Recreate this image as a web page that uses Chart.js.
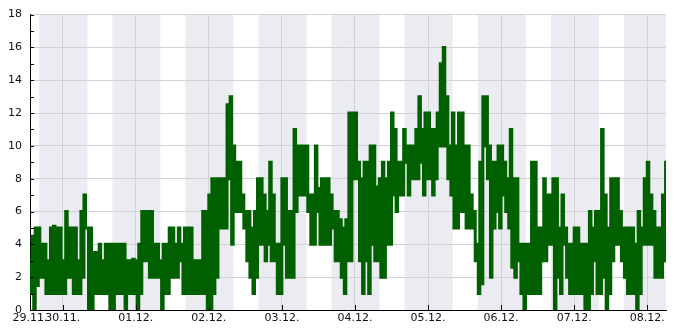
<!DOCTYPE html>
<html>
<head>
<meta charset="utf-8">
<script src="https://cdn.jsdelivr.net/npm/chart.js@4"></script>
<style>
  body { margin: 0; background: #fff; }
</style>
</head>
<body>
<canvas id="chart" width="685" height="330"></canvas>
<script>
// hours counted from 29.11. 00:00, one high/low pair per hour starting at 13:00
const startHour = 13;
const highs = [
  3, 4.5, 5, 5, 4, 4, 3, 5, 5.1, 5,
  5, 3, 6, 5, 5, 5, 3, 6, 7, 5,
  5, 3.5, 3.5, 4, 3, 4, 4, 4, 4, 4,
  4, 4, 3, 3, 3.1, 3, 4, 6, 6, 6,
  6, 4, 4, 3, 4, 4, 5, 5, 4, 5,
  4, 5, 5, 5, 3, 3, 3, 6, 6, 7,
  8, 8, 8, 8, 8, 12.5, 13, 10, 9, 9,
  7, 6, 6, 5, 6, 8, 8, 7, 6, 9,
  7, 4, 4, 8, 8, 6, 6, 11, 10, 10,
  10, 10, 7, 7, 10, 7.4, 8, 8, 8, 7,
  6, 6, 5.5, 5, 5.5, 12, 12, 12, 9, 8,
  9, 9, 10, 10, 7.5, 8, 9, 8, 9, 12,
  11, 9, 9, 11, 10, 10, 10, 11, 13, 11,
  12, 12, 11, 11, 12, 15, 16, 13, 10, 12,
  10, 12, 12, 10, 10, 7, 6, 4, 9, 13,
  13, 10, 9, 9, 10, 10, 9, 8, 11, 8,
  8, 4, 4, 4, 4, 9, 9, 5, 5, 8,
  7, 7, 8, 8, 5, 7, 5, 4, 4, 5,
  5, 4, 4, 4, 6, 5, 6, 6, 11, 7,
  5, 8, 8, 8, 6, 5, 5, 5, 5, 4,
  6, 5, 8, 9, 7, 6, 5, 5, 7, 9
];
const lows = [
  1, 0, 1.5, 2, 2, 1, 1, 1, 1, 1,
  1, 1, 2, 2, 1, 1, 1, 2, 5, 0,
  0, 1, 1, 1, 1, 1, 0, 0, 1, 1,
  1, 0, 1, 1, 1, 0, 1, 3, 3, 2,
  2, 2, 2, 0, 1, 1, 2, 2, 2, 3,
  1, 1, 1, 1, 1, 1, 1, 1, 0, 0,
  1, 2, 5, 5, 5, 8, 4, 6, 6, 6,
  5, 3, 2, 1, 2, 4, 4, 3, 4, 3,
  3, 1, 1, 4, 2, 2, 2, 6, 7, 7,
  7, 6, 4, 4, 6, 4, 4, 4, 4, 5,
  3, 3, 2, 1, 3, 3, 8, 8, 3, 1,
  3, 1, 4, 3, 3, 2, 2, 4, 4, 7,
  6, 7, 7, 9, 7, 8, 8, 8, 9, 7,
  8, 8, 7, 8, 10, 10, 10, 8, 7, 5,
  5, 6, 6, 5, 5, 5, 3, 1, 1.6, 10,
  8, 2, 5, 6, 5, 7, 6, 5, 2.6, 2,
  3, 1, 0, 1, 1, 1, 1, 1, 3, 3,
  4, 4, 0, 2, 1, 4, 2, 1, 1, 1,
  1, 1, 0, 0, 1, 3, 1, 1, 2, 0,
  1, 3, 4, 4, 3, 2, 1, 1, 1, 0,
  1, 4, 4, 4, 4, 2, 2, 2, 3, 6
];

const tickHours = [13.28, 24, 48, 72, 96, 120, 144, 168, 192, 216];
const tickLabels = ['29.11.', '30.11.', '01.12.', '02.12.', '03.12.', '04.12.', '05.12.', '06.12.', '07.12.', '08.12.'];

// night shading (16:20 - 08:06)
const nightStarts = [16.33, 40.33, 64.33, 88.33, 112.33, 136.33, 160.33, 184.33, 208.33];
const nightEnds = [32.1, 56.1, 80.1, 104.1, 128.1, 152.1, 176.1, 200.1, 224.1];

const points = [];
highs.forEach(function(v, i) {
  points.push({ x: startHour + i, y: v });
  points.push({ x: startHour + i + 0.5, y: lows[i] });
});

const nightBands = {
  id: 'nightBands',
  beforeDraw: function(chart) {
    const c = chart.ctx, a = chart.chartArea, xs = chart.scales.x;
    c.save();
    c.fillStyle = '#ebecf1';
    nightStarts.forEach(function(s, i) {
      const x1 = Math.max(xs.getPixelForValue(s), a.left);
      const x2 = Math.min(xs.getPixelForValue(nightEnds[i]), a.right);
      if (x2 > x1) c.fillRect(x1, a.top, x2 - x1, a.bottom - a.top);
    });
    c.restore();
  }
};

const innerTicks = {
  id: 'innerTicks',
  afterDatasetsDraw: function(chart) {
    const c = chart.ctx, a = chart.chartArea, xs = chart.scales.x, ys = chart.scales.y;
    c.save();
    c.strokeStyle = '#000';
    c.lineWidth = 1;
    c.beginPath();
    for (let v = 0; v <= 18; v++) {
      const y = Math.round(ys.getPixelForValue(v)) + 0.5;
      c.moveTo(a.left, y);
      c.lineTo(a.left + 4, y);
    }
    tickHours.slice(1).forEach(function(h) {
      const x = Math.round(xs.getPixelForValue(h)) + 0.5;
      c.moveTo(x, a.bottom);
      c.lineTo(x, a.bottom - 5);
    });
    c.stroke();
    c.restore();
  }
};

const ctx = document.getElementById('chart').getContext('2d');
const chart = new Chart(ctx, {
  type: 'line',
  data: {
    datasets: [{
      data: points,
      borderColor: '#006000',
      borderWidth: 3,
      pointRadius: 0,
      stepped: true,
      fill: false
    }]
  },
  options: {
    responsive: false,
    animation: false,
    layout: { padding: { top: 10, right: 19, left: 0, bottom: 0 } },
    plugins: { legend: { display: false }, tooltip: { enabled: false } },
    scales: {
      x: {
        type: 'linear',
        min: 13.28,
        max: 222.15,
        afterBuildTicks: function(scale) {
          scale.ticks = tickHours.map(function(h) { return { value: h }; });
        },
        afterFit: function(scale) { scale.height = 20; },
        grid: { color: '#d2d2d6', drawTicks: false },
        border: { color: '#000', width: 1 },
        ticks: {
          autoSkip: false,
          maxRotation: 0,
          padding: 2,
          color: '#111',
          font: { family: 'DejaVu Sans', size: 11 },
          callback: function(value) {
            const i = tickHours.indexOf(value);
            return i >= 0 ? tickLabels[i] : '';
          }
        }
      },
      y: {
        min: 0,
        max: 18,
        afterFit: function(scale) { scale.width = 30; },
        grid: { color: '#d2d2d6', drawTicks: false },
        border: { color: '#000', width: 1 },
        ticks: {
          stepSize: 2,
          padding: 8,
          color: '#111',
          font: { family: 'DejaVu Sans', size: 11 }
        }
      }
    }
  },
  plugins: [nightBands, innerTicks]
});
</script>
</body>
</html>
